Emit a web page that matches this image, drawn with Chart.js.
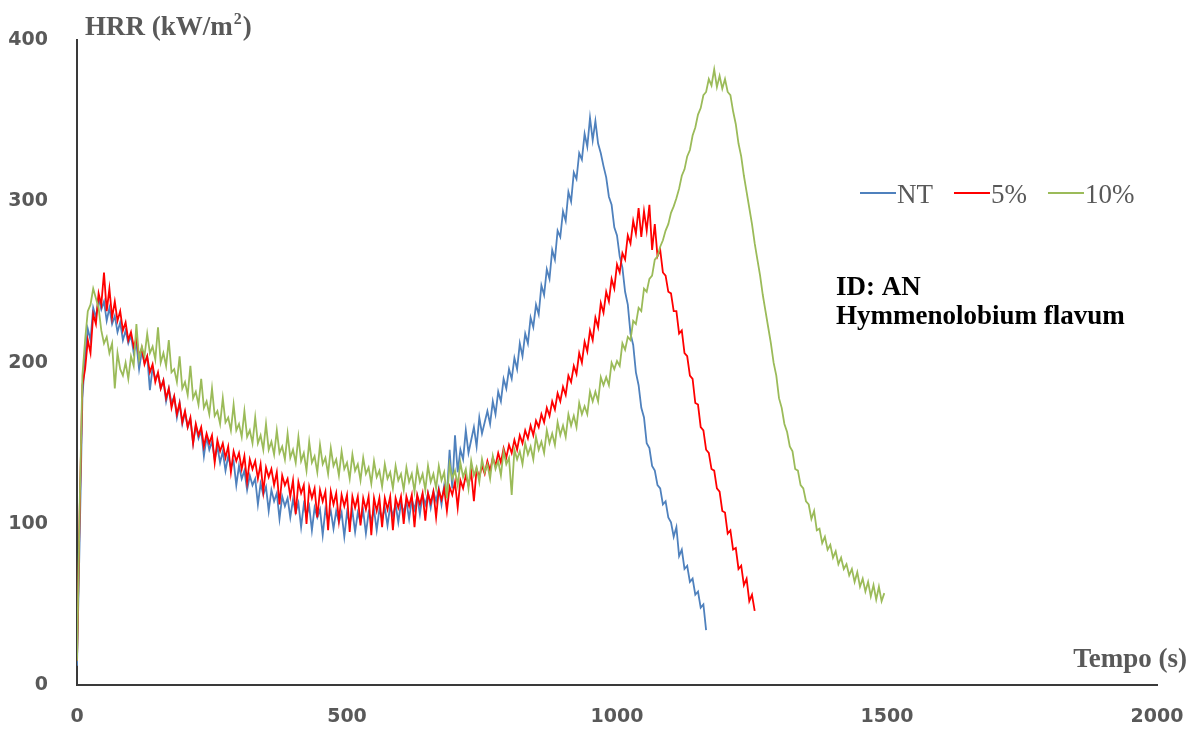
<!DOCTYPE html>
<html>
<head>
<meta charset="utf-8">
<script src="https://cdn.jsdelivr.net/npm/chart.js@4.4.1/dist/chart.umd.min.js"></script>
<style>
  body { margin: 0; background: #fff; }
  #wrap { width: 1200px; height: 735px; position: relative; }
</style>
</head>
<body>
<div id="wrap"><canvas id="myChart"></canvas></div>
<script>
// HRR curves, one reading every 5 s
const PASSO = 5
const rotulos = ['NT', '5%', '10%']
const cores = ['#4f81bd', '#ff0000', '#9bbb59']

const hrrNT = [
  12, 92, 178, 204, 221, 214, 234, 228, 240, 233, 238, 226, 234, 224, 229, 219, 225, 214, 220, 212,
  217, 206, 212, 196, 207, 200, 204, 183, 197, 190, 193, 184, 189, 176, 184, 175, 179, 166, 175, 162,
  169, 160, 165, 150, 161, 153, 158, 142, 154, 146, 151, 140, 148, 138, 145, 133, 142, 135, 139, 124,
  136, 128, 133, 121, 130, 124, 128, 112, 125, 118, 123, 108, 121, 114, 119, 103, 117, 111, 116, 104,
  115, 107, 113, 98, 112, 105, 111, 96, 110, 104, 109, 93, 109, 102, 108, 97, 108, 101, 107, 92,
  107, 100, 108, 95, 107, 101, 108, 94, 107, 102, 109, 96, 109, 103, 110, 99, 111, 105, 112, 101,
  113, 107, 114, 103, 115, 109, 117, 106, 118, 112, 119, 110, 120, 114, 122, 112, 124, 118, 146, 122,
  155, 132, 146, 140, 158, 144, 152, 160, 148, 166, 156, 163, 170, 162, 176, 168, 182, 176, 190, 184,
  196, 190, 203, 196, 212, 204, 218, 212, 228, 222, 236, 230, 248, 242, 258, 252, 270, 264, 282, 278,
  294, 288, 306, 300, 318, 314, 330, 326, 342, 334, 352, 338, 350, 336, 330, 322, 315, 303, 298, 284,
  279, 266, 259, 244, 236, 218, 211, 194, 186, 172, 166, 150, 147, 136, 133, 124, 122, 112, 114, 104,
  101, 92, 98, 80, 84, 72, 74, 64, 66, 56, 58, 48, 50, 34
]

const hrr5 = [
  15, 108, 186, 196, 214, 206, 230, 224, 243, 236, 256, 232, 246, 228, 238, 226, 232, 220, 225, 214,
  219, 210, 215, 204, 209, 199, 204, 194, 199, 188, 194, 184, 189, 178, 184, 172, 179, 168, 175, 163,
  170, 160, 166, 150, 162, 155, 160, 148, 156, 150, 155, 138, 152, 145, 150, 141, 148, 132, 145, 139,
  144, 134, 142, 126, 140, 134, 139, 128, 137, 120, 135, 129, 134, 124, 132, 112, 130, 124, 128, 117,
  127, 106, 126, 119, 124, 100, 123, 116, 122, 104, 121, 114, 120, 96, 120, 112, 119, 102, 118, 111,
  118, 95, 117, 110, 117, 99, 116, 109, 117, 93, 116, 108, 116, 98, 116, 109, 117, 96, 116, 110,
  117, 100, 117, 111, 118, 98, 118, 112, 119, 102, 119, 113, 120, 104, 121, 115, 122, 108, 123, 118,
  126, 110, 127, 122, 130, 124, 132, 114, 134, 129, 136, 131, 139, 133, 141, 136, 144, 138, 147, 141,
  149, 144, 152, 146, 155, 150, 158, 153, 161, 155, 164, 160, 168, 163, 172, 167, 176, 171, 181, 176,
  185, 180, 192, 188, 198, 193, 206, 200, 213, 207, 220, 214, 228, 222, 237, 231, 244, 238, 252, 246,
  261, 256, 268, 264, 279, 274, 288, 280, 296, 278, 294, 282, 298, 270, 286, 266, 270, 256, 254, 244,
  243, 232, 232, 218, 220, 206, 204, 192, 190, 175, 174, 160, 158, 146, 144, 134, 133, 122, 120, 108,
  107, 94, 96, 84, 85, 72, 74, 62, 66, 52, 56, 46
]

const hrr10 = [
  15, 112, 192, 214, 232, 236, 246, 240, 234, 220, 212, 216, 206, 212, 184, 206, 196, 192, 200, 190,
  204, 198, 224, 202, 210, 204, 218, 206, 210, 202, 222, 200, 206, 198, 214, 194, 196, 188, 204, 184,
  188, 180, 198, 178, 182, 174, 190, 172, 176, 168, 184, 167, 170, 162, 178, 163, 166, 158, 174, 158,
  162, 154, 170, 154, 158, 150, 166, 150, 155, 146, 162, 146, 151, 143, 158, 144, 148, 140, 156, 141,
  146, 138, 154, 139, 144, 133, 151, 138, 142, 132, 149, 137, 141, 131, 147, 136, 140, 130, 145, 134,
  138, 128, 143, 133, 137, 127, 141, 131, 135, 125, 139, 129, 133, 123, 137, 128, 132, 122, 136, 127,
  131, 121, 135, 126, 131, 120, 135, 126, 131, 121, 136, 126, 131, 122, 136, 127, 132, 116, 137, 128,
  133, 124, 138, 129, 134, 122, 139, 130, 135, 126, 140, 132, 137, 128, 142, 134, 139, 130, 145, 137,
  141, 118, 146, 140, 145, 137, 150, 143, 148, 140, 154, 146, 151, 144, 158, 150, 156, 149, 163, 155,
  161, 154, 168, 161, 167, 160, 175, 168, 173, 168, 182, 176, 182, 176, 191, 186, 191, 186, 200, 196,
  201, 198, 212, 208, 216, 214, 226, 224, 234, 232, 246, 244, 252, 254, 264, 266, 272, 276, 282, 286,
  293, 297, 302, 308, 316, 320, 328, 332, 341, 346, 354, 358, 366, 368, 376, 372, 382, 371, 378, 370,
  376, 368, 366, 356, 348, 336, 328, 316, 306, 296, 286, 274, 264, 254, 242, 232, 222, 212, 200, 192,
  178, 172, 162, 157, 148, 145, 134, 133, 124, 122, 114, 112, 103, 108, 96, 97, 88, 92, 84, 87,
  79, 83, 75, 79, 72, 75, 68, 72, 64, 70, 61, 66, 58, 64, 55, 62, 53, 61, 52, 57
]

const xTicks = [0, 500, 1000, 1500, 2000]
const yTicks = [0, 100, 200, 300, 400]

const series = [hrrNT, hrr5, hrr10]

const cinza = '#595959'

// text that sits on the chart: axis titles, legend, sample label
const textos = {
  id: 'textos',
  afterDraw(chart) {
    const c = chart.ctx
    const area = chart.chartArea
    c.save()
    c.fillStyle = cinza
    c.textBaseline = 'alphabetic'

    // y title with superscript
    c.font = 'bold 27px "Liberation Serif"'
    c.textAlign = 'left'
    let x = area.left + 8
    const yb = 35
    c.fillText('HRR (kW/m', x, yb)
    x += c.measureText('HRR (kW/m').width
    c.font = 'bold 16px "Liberation Serif"'
    c.fillText('2', x + 1, yb - 11)
    x += c.measureText('2').width + 2
    c.font = 'bold 27px "Liberation Serif"'
    c.fillText(')', x, yb)

    // x title
    c.textAlign = 'right'
    c.fillText('Tempo (s)', 1187, 667)

    // legend
    c.font = '27px "Liberation Serif"'
    c.textAlign = 'left'
    let lx = 860
    chart.data.datasets.forEach(ds => {
      c.strokeStyle = ds.borderColor
      c.lineWidth = 2
      c.beginPath()
      c.moveTo(lx, 193)
      c.lineTo(lx + 36, 193)
      c.stroke()
      c.fillStyle = cinza
      c.fillText(ds.label, lx + 37, 203)
      lx += 37 + c.measureText(ds.label).width + 21
    })

    // sample id
    c.fillStyle = '#000'
    c.font = 'bold 27px "Liberation Serif"'
    c.fillText('ID: AN', 836, 295)
    c.fillText('Hymmenolobium flavum', 836, 324)
    c.restore()
  }
}

const ctx = document.getElementById('myChart').getContext('2d')

const myChart = new Chart(ctx, {
  type: 'line',
  data: {
    datasets: series.map((s, k) => ({
      label: rotulos[k],
      data: s.map((v, i) => ({ x: i * PASSO, y: v })),
      borderColor: cores[k],
      backgroundColor: cores[k],
      borderWidth: 1.8,
      pointRadius: 0,
      tension: 0,
      order: 3 - k
    }))
  },
  options: {
    responsive: true,
    maintainAspectRatio: false,
    animation: false,
    events: [],
    layout: { padding: { top: 21, right: 43, left: 0, bottom: 0 } },
    plugins: {
      legend: { display: false },
      tooltip: { enabled: false }
    },
    scales: {
      x: {
        type: 'linear',
        min: 0,
        max: 2000,
        afterBuildTicks: s => { s.ticks = xTicks.map(v => ({ value: v })) },
        afterFit: s => { s.height = 50; s.paddingLeft = 0; s.paddingRight = 0 },
        grid: { display: false, drawTicks: false },
        border: { display: true, color: '#3a3a3a', width: 2 },
        ticks: {
          color: cinza,
          padding: 21,
          maxRotation: 0,
          callback: v => String(v),
          font: { family: 'DejaVu Sans', size: 19, weight: 'bold' }
        }
      },
      y: {
        min: 0,
        max: 400,
        afterBuildTicks: s => { s.ticks = yTicks.map(v => ({ value: v })) },
        afterFit: s => { s.width = 77 },
        grid: { display: false, drawTicks: false },
        border: { display: true, color: '#3a3a3a', width: 2 },
        ticks: {
          color: cinza,
          padding: 29,
          callback: v => String(v),
          font: { family: 'DejaVu Sans', size: 19, weight: 'bold' }
        }
      }
    }
  },
  plugins: [textos]
})
</script>
</body>
</html>
